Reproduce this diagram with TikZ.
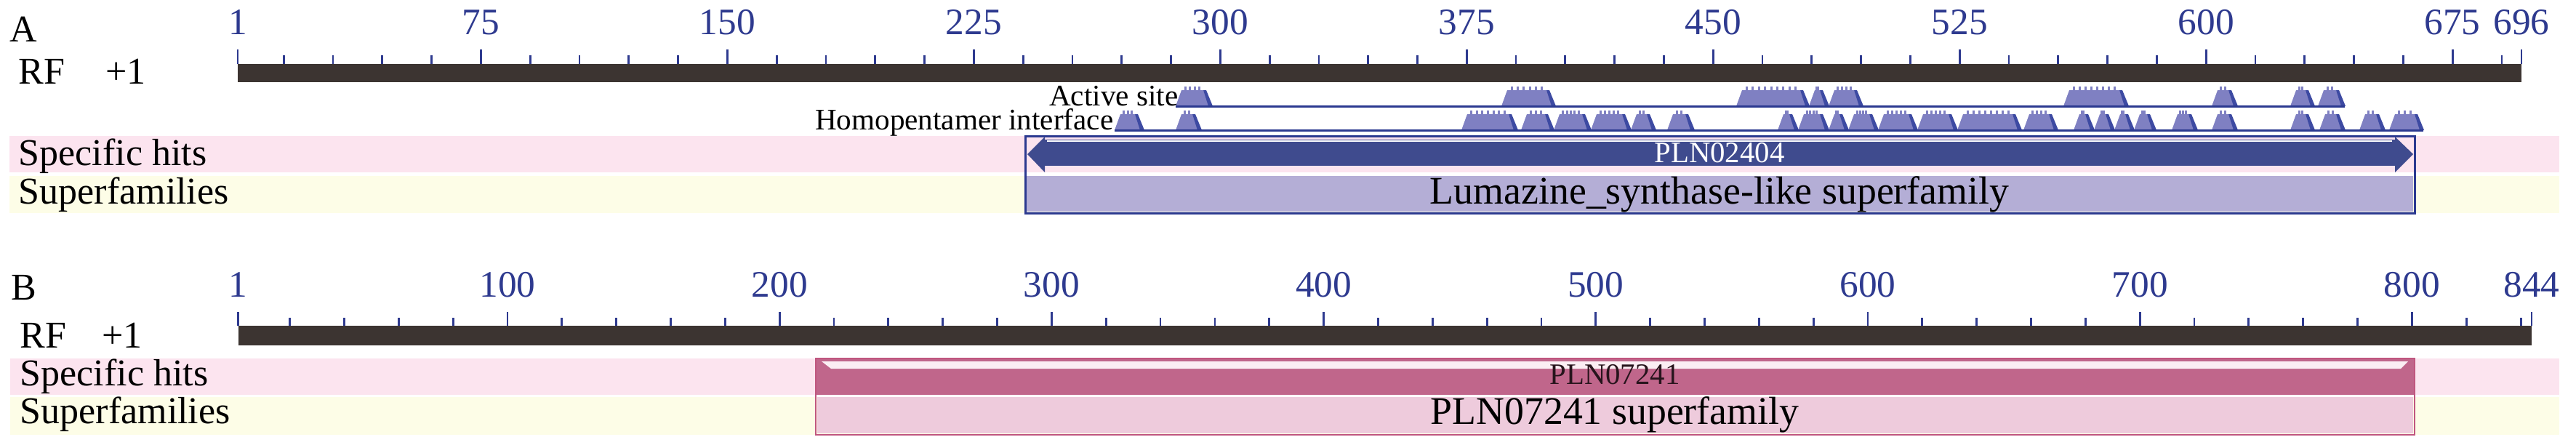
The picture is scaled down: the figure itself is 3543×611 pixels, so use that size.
\documentclass[tikz,border=0pt]{standalone}
\usepackage{fontspec}
\setmainfont{Liberation Serif}
\definecolor{numblue}{HTML}{2E3A8F}
\definecolor{barcol}{HTML}{3C3431}
\definecolor{pinkband}{HTML}{FCE4EF}
\definecolor{yellowband}{HTML}{FDFDE7}
\definecolor{arrowblue}{HTML}{3F4B8E}
\definecolor{lavender}{HTML}{B4AED6}
\definecolor{frameblue}{HTML}{2B3990}
\definecolor{featfill}{HTML}{7F80C2}
\definecolor{featdark}{HTML}{3D4AA2}
\definecolor{rose}{HTML}{C0668B}
\definecolor{roseframe}{HTML}{C0567F}
\definecolor{lightpink}{HTML}{EECBDC}
\definecolor{roselight}{HTML}{FBEEF3}
\newcommand\featshape[4]{%
  \pgfmathsetmacro\ftop{#3-22}%
  \pgfmathsetmacro\fmk{#3-27}%
  \fill[featfill] (#1,#3) -- (#1+8,\ftop) -- (#2-12,\ftop) -- (#2,#3) -- cycle;
  \fill[featdark] (#2-12,\ftop) -- (#2-8,\ftop) -- (#2+1,#3) -- (#2-5,#3) -- cycle;
  \pgfmathsetmacro\fa{#1+10}%
  \pgfmathsetmacro\fw{(#2-14-\fa)/#4}%
  \foreach \i in {1,...,#4}{%
    \pgfmathsetmacro\mx{\fa+(\i-0.5)*\fw}%
    \fill[featfill] (\mx-1.5,\fmk) rectangle (\mx+1.5,\ftop);
  }%
}
\begin{document}
\begin{tikzpicture}[x=0.01cm,y=-0.01cm,
  lbl/.style={inner sep=0pt, font=\fontsize{14.8}{16}\selectfont, text=black},
  num/.style={inner sep=0pt, anchor=base, font=\fontsize{14.6}{16}\selectfont, text=numblue},
  featlbl/.style={inner sep=0pt, anchor=base east, font=\fontsize{11.7}{13}\selectfont, text=black},
  tick/.style={draw=numblue, line width=0.8pt},
  trackline/.style={draw=frameblue, line width=0.85pt}]
\useasboundingbox (0,0) rectangle (3543,611);

% ================= Panel A =================
\node[lbl, anchor=base west] (labA) at (13,57) {A};
\node[lbl, anchor=base west] (rfA) at (25,115) {RF\hspace{16pt}+1};
% ruler
\fill[barcol] (327,88) rectangle (3468,113);
\foreach \r in {15,30,...,690}{
  \pgfmathsetmacro\xx{327+(\r-1)*4.5194}
  \draw[tick] (\xx,88) -- (\xx,76);
}
\foreach \r in {1,75,150,225,300,375,450,525,600,675,696}{
  \pgfmathsetmacro\xx{327+(\r-1)*4.5194}
  \draw[tick] (\xx,88) -- (\xx,68);
  \node[num] (nA\r) at (\xx,47) {\r};
}
% bands
\fill[pinkband] (13,187) rectangle (3520,237);
\fill[yellowband] (13,242) rectangle (3520,293);
\node[lbl, anchor=base west] (shA) at (25,227) {Specific hits};
\node[lbl, anchor=base west] (sfA) at (25,280) {Superfamilies};
% feature tracks
\foreach \xl/\xr/\n in {1617/1667/4,2065/2139/6,2388/2488/9,2488/2515/2,2515/2562/4,2838/2927/8,3042/3077/2,3150/3183/2,3188/3225/2}{
  \featshape{\xl}{\xr}{146}{\n}
}
\foreach \xl/\xr/\n in {1533/1573/3,1617/1652/2,2010/2087/7,2092/2137/3,2137/2188/5,2188/2243/5,2243/2277/2,2293/2330/2,2445/2473/2,2473/2515/4,2515/2542/2,2542/2583/4,2583/2637/5,2637/2692/5,2692/2780/8,2783/2830/4,2852/2880/2,2880/2908/3,2908/2935/2,2935/2965/2,2987/3022/3,3042/3077/2,3150/3183/2,3190/3225/2,3245/3280/2,3286/3333/3}{
  \featshape{\xl}{\xr}{179}{\n}
}
\coordinate (actS) at (1617,146);
\coordinate (actE) at (3225,146);
\coordinate (homS) at (1533,179);
\coordinate (homE) at (3333,179);
\draw[trackline] (actS) -- (actE);
\draw[trackline] (homS) -- (homE);
\node[featlbl] (act) at (1621,145) {Active site};
\node[featlbl] (hom) at (1532,178) {Homopentamer interface};
% domain A
\fill[lavender] (1412,242) rectangle (3319,291);
\fill[arrowblue] (1437,192) rectangle (3294,228);
\fill[arrowblue] (1413,212) -- (1437,188) -- (1437,237) -- cycle;
\fill[arrowblue] (3319,212) -- (3294,188) -- (3294,237) -- cycle;
\draw[white, line width=0.6pt] (1440,194) -- (3290,194);
\draw[draw=frameblue, line width=0.85pt] (1410,187) rectangle (3321,293);
\node[inner sep=0pt, anchor=base, text=white, font=\fontsize{11.6}{13}\selectfont] (plnA) at (2365,223) {PLN02404};
\node[inner sep=0pt, anchor=base, text=black, font=\fontsize{15.3}{17}\selectfont] (supA) at (2365,280) {Lumazine\_synthase-like superfamily};

% ================= Panel B =================
\node[lbl, anchor=base west] (labB) at (15,412) {B};
\node[lbl, anchor=base west] (rfB) at (27,478) {RF\hspace{14pt}+1};
\fill[barcol] (327.5,448) rectangle (3482,475);
\foreach \r in {20,40,...,840}{
  \pgfmathsetmacro\xx{327.5+(\r-1)*3.742}
  \draw[tick] (\xx,448) -- (\xx,437);
}
\foreach \r in {1,100,200,300,400,500,600,700,800,844}{
  \pgfmathsetmacro\xx{327.5+(\r-1)*3.742}
  \draw[tick] (\xx,448) -- (\xx,429);
  \node[num] (nB\r) at (\xx,408) {\r};
}
\fill[pinkband] (14,493) rectangle (3520,543);
\fill[yellowband] (14,546) rectangle (3520,598);
\node[lbl, anchor=base west] (shB) at (27,530) {Specific hits};
\node[lbl, anchor=base west] (sfB) at (27,582) {Superfamilies};
% domain B
\fill[rose] (1122,493) rectangle (3321,543);
\fill[roselight] (1130,497) -- (3312,497) -- (3302,507) -- (1143,507) -- cycle;
\fill[white] (1122,543) rectangle (3321,546);
\fill[lightpink] (1124,546) rectangle (3319,596);
\draw[draw=roseframe, line width=0.7pt] (1122,493) rectangle (3321,598);
\node[inner sep=0pt, anchor=base, text=black!80!rose, font=\fontsize{11.6}{13}\selectfont] (plnB) at (2221,528) {PLN07241};
\node[inner sep=0pt, anchor=base, text=black, font=\fontsize{15.3}{17}\selectfont] (supB) at (2221,583) {PLN07241 superfamily};
\end{tikzpicture}
\end{document}
